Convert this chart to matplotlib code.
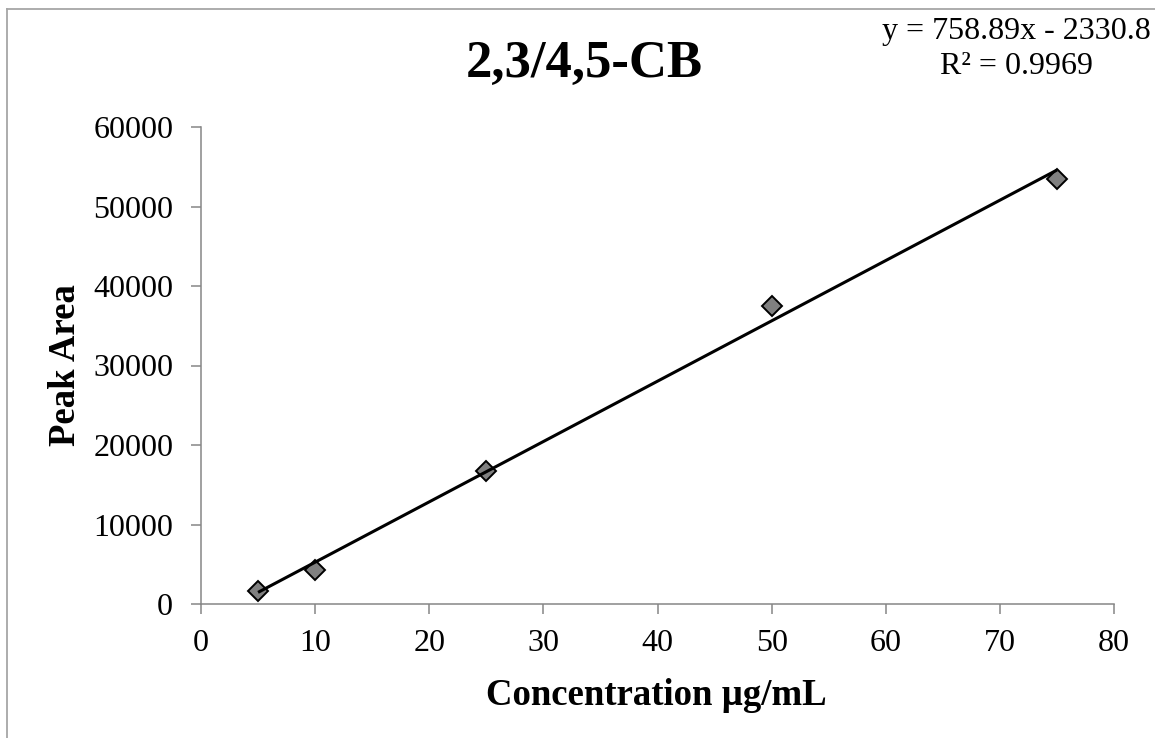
import matplotlib
matplotlib.use("Agg")
import matplotlib.pyplot as plt
from matplotlib.lines import Line2D
import numpy as np

# Data
concentration = [5, 10, 25, 50, 75]
peak_area = [1600, 4300, 16750, 37500, 53400]
slope = 758.89
intercept = -2330.8
r_squared = 0.9969
title = "2,3/4,5-CB"
x_label = "Concentration µg/mL"
y_label = "Peak Area"
x_ticks = [0, 10, 20, 30, 40, 50, 60, 70, 80]
y_ticks = [0, 10000, 20000, 30000, 40000, 50000, 60000]

plt.rcParams['font.family'] = ['Liberation Serif', 'DejaVu Serif']

W, H = 1155, 738
fig = plt.figure(figsize=(W / 100, H / 100), dpi=100)
fig.patch.set_facecolor('white')

def fx(px):
    return px / W

def fy(py):
    return 1 - py / H

# outer gray border (top and left visible)
fig.add_artist(Line2D([fx(7), fx(7)], [fy(9), 0], transform=fig.transFigure,
                      color='#a6a6a6', lw=1.3))
fig.add_artist(Line2D([fx(7), 1], [fy(9), fy(9)], transform=fig.transFigure,
                      color='#a6a6a6', lw=1.3))

ax = fig.add_axes([fx(201), fy(604), fx(1114) - fx(201), fy(127) - fy(604)])
ax.set_xlim(0, 80)
ax.set_ylim(0, 60000)

spine_col = '#868686'
for s in ['top', 'right']:
    ax.spines[s].set_visible(False)
for s in ['left', 'bottom']:
    ax.spines[s].set_color(spine_col)
    ax.spines[s].set_linewidth(1.1)
    ax.spines[s].set_zorder(1)

ax.set_xticks(x_ticks)
ax.set_yticks(y_ticks)
ax.set_xticklabels([str(t) for t in x_ticks])
ax.set_yticklabels([str(t) for t in y_ticks])
ax.tick_params(axis='both', direction='out', color=spine_col, width=1.1,
               length=7, labelsize=23, labelcolor='black')
ax.tick_params(axis='y', pad=13)
ax.tick_params(axis='x', pad=11)

# markers
ax.plot(concentration, peak_area, linestyle='none', marker='D', markersize=10,
        markerfacecolor='#808080', markeredgecolor='black', markeredgewidth=1.4,
        zorder=3, clip_on=False)

# trendline
xl = np.array([min(concentration), max(concentration)], dtype=float)
ax.plot(xl, slope * xl + intercept, color='black', lw=2.2, zorder=4,
        solid_capstyle='butt', clip_on=False)

# texts
fig.text(fx(584), fy(77), title, ha='center', va='baseline', fontsize=38,
         fontweight='bold')
fig.text(fx(1016), fy(39), f"y = {slope}x - {abs(intercept)}", ha='center',
         va='baseline', fontsize=23)
fig.text(fx(1016), fy(74), f"R² = {r_squared}", ha='center', va='baseline',
         fontsize=23)
fig.text(fx(656), fy(705), x_label, ha='center', va='baseline', fontsize=26.5,
         fontweight='bold')
fig.text(fx(75), fy(365), y_label, ha='center', va='baseline', rotation=90,
         fontsize=26.5, fontweight='bold', rotation_mode='anchor')

fig.savefig('out.png', dpi=100, facecolor='white')
